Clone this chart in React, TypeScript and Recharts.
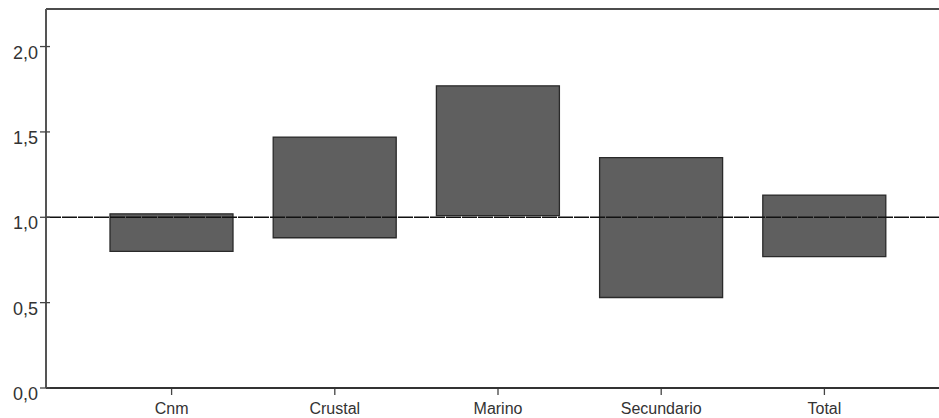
import { BarChart, Bar, XAxis, YAxis, ReferenceLine } from "recharts";

const categories = ["Cnm", "Crustal", "Marino", "Secundario", "Total"];
const lowValues = [0.8, 0.88, 1.01, 0.53, 0.77];
const highValues = [1.02, 1.47, 1.77, 1.35, 1.13];
const yTicks = [0, 0.5, 1, 1.5, 2];

const data = categories.map((name, i) => ({
  name,
  range: [lowValues[i], highValues[i]],
}));

const FONT = "'Liberation Sans Narrow', 'Liberation Sans', Arial, sans-serif";

function YTick({ x, y, payload }: any) {
  return (
    <g>
      <line x1={x + 2} x2={x + 12} y1={y} y2={y} stroke="#444" strokeWidth={1.3} />
      <text
        x={x}
        y={y + 12}
        textAnchor="end"
        fontSize={18}
        fontFamily={FONT}
        fill="#333"
      >
        {payload.value.toFixed(1).replace(".", ",")}
      </text>
    </g>
  );
}

// tick y comes in a few px below the axis line
function XTick({ x, y, payload }: any) {
  return (
    <g>
      <line x1={x} x2={x} y1={y - 7} y2={y - 1} stroke="#444" strokeWidth={1.3} />
      <text
        x={x}
        y={y + 18}
        textAnchor="middle"
        fontSize={16}
        fontFamily={FONT}
        fill="#333"
      >
        {payload.value}
      </text>
    </g>
  );
}

export default function App() {
  return (
    <div style={{ position: "absolute", left: 0, top: 0, background: "#fff" }}>
      <BarChart
        width={939}
        height={418}
        data={data}
        margin={{ top: 9, right: 0, bottom: 0, left: 0 }}
      >
        <XAxis
          dataKey="name"
          height={30}
          padding={{ left: 44, right: 33 }}
          tickLine={false}
          tick={<XTick />}
          axisLine={{ stroke: "#333", strokeWidth: 2 }}
          interval={0}
        />
        <YAxis
          width={46}
          domain={[0, 2.22]}
          ticks={yTicks}
          tickLine={false}
          tick={<YTick />}
          axisLine={{ stroke: "#555", strokeWidth: 2 }}
          allowDataOverflow
        />
        <ReferenceLine y={2.22} stroke="#111" strokeWidth={1.5} />
        <Bar
          dataKey="range"
          barSize={123}
          fill="#5f5f5f"
          stroke="#2a2a2a"
          strokeWidth={1.3}
          isAnimationActive={false}
        />
        <ReferenceLine y={1} stroke="#111" strokeWidth={1.5} strokeDasharray="15 1" />
      </BarChart>
    </div>
  );
}
